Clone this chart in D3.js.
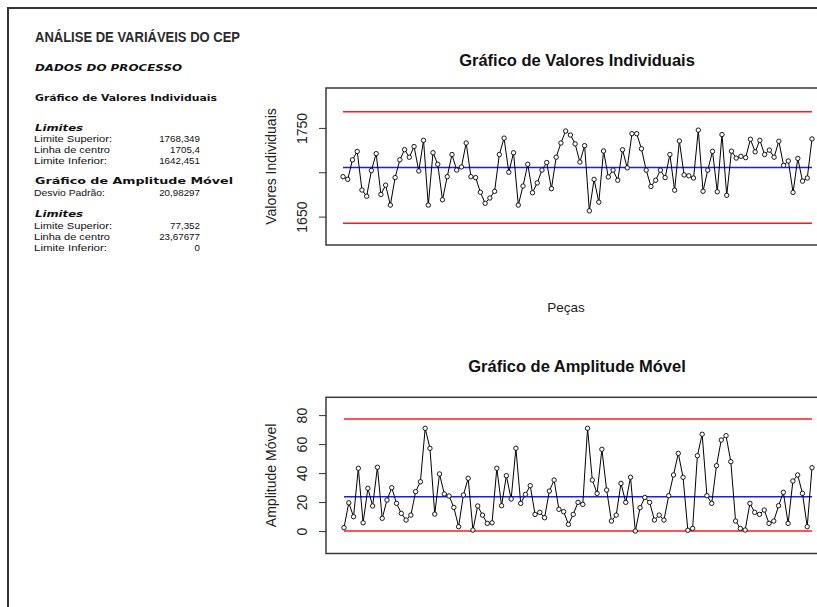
<!DOCTYPE html>
<html>
<head>
<meta charset="utf-8">
<script src="https://cdn.jsdelivr.net/npm/d3@7"></script>
<style>
  html, body { margin: 0; padding: 0; background: #fff; }
  svg { display: block; }
</style>
</head>
<body>
<svg id="chart" width="817" height="607"></svg>
<script>
// ---------------- DATA ----------------
const individualValues = [
  1695, 1692, 1714, 1723.5, 1680, 1673, 1702, 1721, 1675, 1685.5,
  1663, 1694, 1714, 1725.5, 1717, 1729, 1701.5, 1736, 1663, 1722,
  1709, 1669, 1695, 1720, 1702.5, 1706, 1733, 1695, 1694, 1677.5,
  1665, 1671, 1678.5, 1720, 1738.5, 1700, 1722, 1663, 1684.5, 1709,
  1677, 1688, 1702.5, 1711, 1681.5, 1717, 1733, 1746.5, 1742, 1732,
  1711.5, 1730, 1656.5, 1692, 1666.3, 1724, 1694.7, 1702.5, 1691, 1725.4,
  1705, 1743.5, 1743.5, 1726.5, 1702.4, 1684, 1691, 1702.4, 1694, 1720,
  1679.8, 1735.3, 1697, 1696, 1693.5, 1747.5, 1678.6, 1702.4, 1723.6, 1678,
  1742.5, 1674, 1723.8, 1716, 1718, 1716.5, 1737.2, 1723, 1736, 1720,
  1725, 1717, 1735, 1707.8, 1712.7, 1677.3, 1715.6, 1690, 1693.5, 1737.6
];
const movingRanges = [
  2.3, 19.5, 9.9, 43.3, 5.7, 29.5, 17.3, 44, 8.8, 21.4,
  29.9, 19.1, 12.2, 7.6, 11, 27.2, 34, 70.9, 57.1, 11.7,
  39.4, 25.6, 24.2, 16.3, 3, 24.9, 36.4, 0.7, 17.3, 11,
  5.3, 5.7, 43.3, 17.5, 38.2, 22.1, 57.1, 19.1, 25.3, 31.3,
  11.5, 12.9, 9.2, 27.6, 35.2, 15, 13.4, 4.6, 11.5, 19.8,
  18.4, 70.9, 35.2, 26, 56.4, 28.3, 6.9, 11, 32.9, 19.8,
  37.1, 0, 16.1, 23.2, 19.8, 7.6, 11, 7.6, 24.4, 38.7,
  53.6, 37.1, 0.5, 1.8, 52, 66.8, 24.4, 19.1, 45.1, 62.8,
  65.8, 47.9, 6.9, 1.8, 0.7, 19.1, 12.9, 11.5, 14.5, 5.3,
  6.9, 17.5, 26.7, 5.3, 34.5, 38.7, 26, 3, 43.7
];
// [superior, centro, inferior]
const individualLimits = [1768.349, 1705.4, 1642.451];
const movingRangeLimits = [77.352, 23.67677, 0];
const individualLimitLabels = ["1768,349", "1705,4", "1642,451"];
const movingRangeLimitLabels = ["77,352", "23,67677", "0"];
const stdDevLabel = "20,98297";
const limitNames = ["Limite Superior:", "Linha de centro", "Limite Inferior:"];

const individualTicks = [1650, 1700, 1750];
const individualTickLabels = ["1650", "", "1750"];
const movingRangeTicks = [0, 20, 40, 60, 80];
const individualYDomain = [1618, 1795];
const movingRangeYDomain = [-15.5, 92.3];

const pageTitle = "ANÁLISE DE VARIÁVEIS DO CEP";
const sectionTitle = "DADOS DO PROCESSO";
const individualTitle = "Gráfico de Valores Individuais";
const movingRangeTitle = "Gráfico de Amplitude Móvel";
const individualYLabel = "Valores Individuais";
const movingRangeYLabel = "Amplitude Móvel";
const xLabel = "Peças";

// ---------------- DRAW ----------------
const svg = d3.select("#chart");
const SANS = "'Liberation Sans', Arial, sans-serif";
const VERD = "'DejaVu Sans', Verdana, sans-serif";

// outer frame
svg.append("rect").attr("x", 8).attr("y", 8).attr("width", 900).attr("height", 700)
  .attr("fill", "none").attr("stroke", "#333").attr("stroke-width", 2);

// ---- left panel
function txt(x, y, s, opts) {
  const t = svg.append("text").attr("x", x).attr("y", y).text(s)
    .attr("font-family", opts.family || SANS)
    .attr("font-size", opts.size || 11)
    .attr("fill", opts.fill || "#111");
  if (opts.weight) t.attr("font-weight", opts.weight);
  if (opts.style) t.attr("font-style", opts.style);
  if (opts.anchor) t.attr("text-anchor", opts.anchor);
  if (opts.len) t.attr("textLength", opts.len).attr("lengthAdjust", "spacingAndGlyphs");
  return t;
}
const SMALL = 9.8;
txt(35, 41.5, pageTitle, {size: 14.5, weight: "bold", fill: "#2b2b2b", len: 205});
txt(35, 70.5, sectionTitle, {family: VERD, size: 9.5, weight: "bold", style: "italic", len: 147});
txt(35, 100.5, individualTitle, {family: VERD, size: 9.5, weight: "bold", len: 182});
txt(35, 130.5, "Limites", {family: VERD, size: 9, weight: "bold", style: "italic", len: 48});
limitNames.forEach((n, i) => {
  txt(34, 142 + i * 11, n, {size: SMALL, len: [78, 76, 73][i]});
  txt(200, 142 + i * 11, individualLimitLabels[i], {size: SMALL, anchor: "end"});
});
txt(35, 184, movingRangeTitle, {family: VERD, size: 9.5, weight: "bold", len: 198});
txt(34, 195.5, "Desvio Padrão:", {size: SMALL, len: 71});
txt(200, 195.5, stdDevLabel, {size: SMALL, anchor: "end"});
txt(35, 217, "Limites", {family: VERD, size: 9, weight: "bold", style: "italic", len: 48});
limitNames.forEach((n, i) => {
  txt(34, 228.5 + i * 11, n, {size: SMALL, len: [78, 76, 73][i]});
  txt(200, 228.5 + i * 11, movingRangeLimitLabels[i], {size: SMALL, anchor: "end"});
});

// ---- control chart helper
function controlChart(cfg) {
  const {values, limits, box, xRange, yDomain, ticks, tickLabels, title, titleY, ylab} = cfg;
  const x = d3.scaleLinear().domain([1, values.length]).range(xRange);
  const y = d3.scaleLinear().domain(yDomain).range([box.y + box.h, box.y]);
  const g = svg.append("g");

  // title
  g.append("text").attr("x", 577).attr("y", titleY).attr("text-anchor", "middle")
    .attr("font-family", SANS).attr("font-weight", "bold").attr("font-size", 16.5)
    .attr("fill", "#111").text(title);

  // y axis
  const axis = d3.axisLeft(y).tickValues(ticks).tickSize(7)
    .tickFormat((d, i) => tickLabels ? tickLabels[i] : String(d));
  const ag = g.append("g").attr("transform", `translate(${box.x},0)`).call(axis);
  ag.select(".domain").remove();
  ag.selectAll(".tick line").attr("stroke", "#333").attr("stroke-width", 1);
  ag.selectAll(".tick text")
    .attr("transform", "rotate(-90)")
    .attr("x", 0).attr("y", -19).attr("dy", 0)
    .attr("text-anchor", "middle")
    .attr("font-family", SANS).attr("font-size", 14).attr("fill", "#222");

  // y label
  g.append("text")
    .attr("transform", `translate(276,${box.y + box.h / 2}) rotate(-90)`)
    .attr("text-anchor", "middle").attr("font-family", SANS).attr("font-size", 14)
    .attr("fill", "#222").text(ylab);

  // limit lines
  const colors = ["#ff1a1a", "#1a1aff", "#ff1a1a"];
  limits.forEach((v, i) => {
    g.append("line").attr("x1", x(1)).attr("x2", x(values.length))
      .attr("y1", y(v)).attr("y2", y(v))
      .attr("stroke", colors[i]).attr("stroke-width", 1.5);
  });

  // series
  const line = d3.line().x((d, i) => x(i + 1)).y(d => y(d));
  g.append("path").datum(values).attr("d", line)
    .attr("fill", "none").attr("stroke", "#000").attr("stroke-width", 1);
  g.selectAll("circle.pt").data(values).enter().append("circle")
    .attr("class", "pt")
    .attr("cx", (d, i) => x(i + 1)).attr("cy", d => y(d)).attr("r", 2.2)
    .attr("fill", "#fff").attr("stroke", "#000").attr("stroke-width", 0.9);

  // box
  g.append("rect").attr("x", box.x).attr("y", box.y).attr("width", box.w).attr("height", box.h)
    .attr("fill", "none").attr("stroke", "#3a3a3a").attr("stroke-width", 1.5);
  return {x, y};
}

controlChart({
  values: individualValues, limits: individualLimits,
  box: {x: 326, y: 88, w: 505, h: 157}, xRange: [343, 812],
  yDomain: individualYDomain, ticks: individualTicks, tickLabels: individualTickLabels,
  title: individualTitle, titleY: 66, ylab: individualYLabel
});

svg.append("text").attr("x", 566).attr("y", 312).attr("text-anchor", "middle")
  .attr("font-family", SANS).attr("font-size", 13.5).attr("fill", "#222").text(xLabel);

controlChart({
  values: movingRanges, limits: movingRangeLimits,
  box: {x: 326, y: 397.3, w: 505, h: 156.2}, xRange: [344, 812],
  yDomain: movingRangeYDomain, ticks: movingRangeTicks, tickLabels: null,
  title: movingRangeTitle, titleY: 372, ylab: movingRangeYLabel
});
</script>
</body>
</html>
